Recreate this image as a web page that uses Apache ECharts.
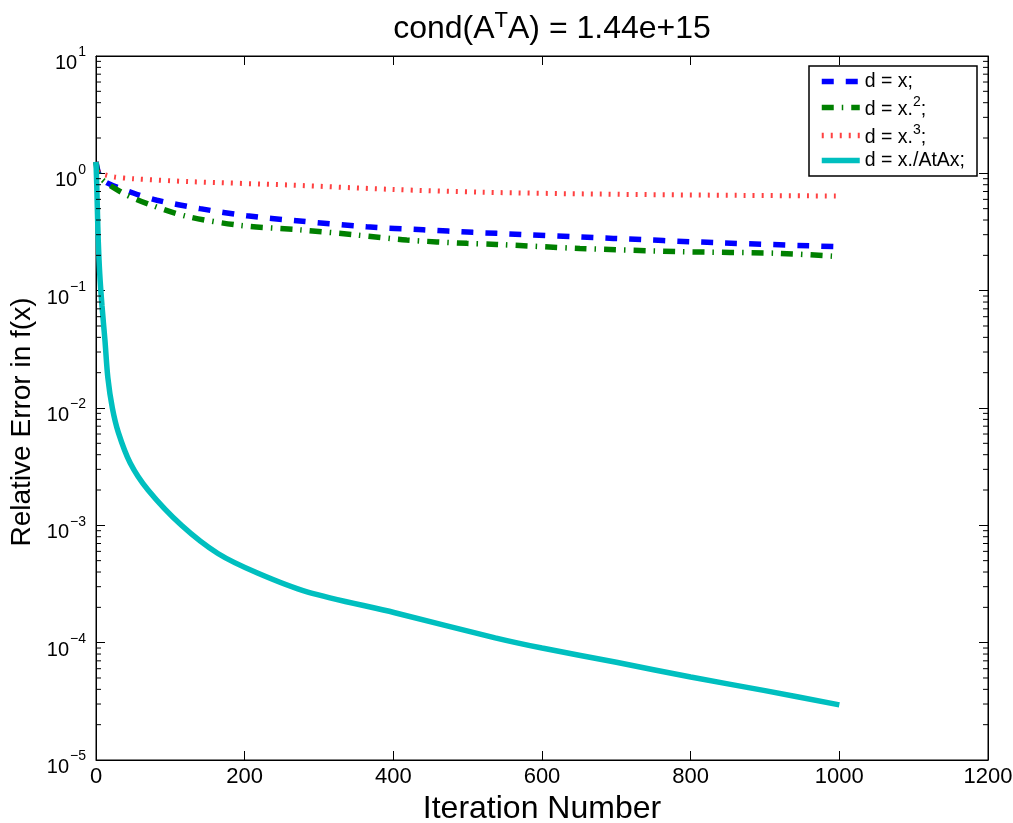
<!DOCTYPE html>
<html><head><meta charset="utf-8">
<script src="https://cdn.jsdelivr.net/npm/echarts@6/dist/echarts.min.js"></script>
<style>html,body{margin:0;padding:0;background:#fff}#c{width:1013px;height:823px}</style>
</head><body><div id="c"></div>
<script>
var FONT = 'Liberation Sans, Arial, Helvetica, sans-serif';

var xTicks = [0, 200, 400, 600, 800, 1000, 1200];
var yDecades = [1e-5, 1e-4, 1e-3, 1e-2, 1e-1, 1, 10];

var seriesNames = ['d = x;', 'd = x.^2;', 'd = x.^3;', 'd = x./AtAx;'];

var blueIter = [0, 5, 15, 50, 82, 140, 203, 270, 364, 440, 507, 539, 696, 830, 1000];
var blueVals = [1.25, 0.95, 0.83, 0.68, 0.59, 0.50, 0.435, 0.394, 0.35, 0.33, 0.314, 0.308, 0.279, 0.257, 0.237];

var greenIter = [0, 5, 36, 73, 122, 194, 274, 351, 418, 499, 539, 651, 786, 920, 1000];
var greenVals = [1.25, 0.93, 0.68, 0.54, 0.43, 0.36, 0.33, 0.298, 0.27, 0.253, 0.248, 0.229, 0.215, 0.208, 0.195];

var redIter = [0, 2, 5, 12, 25, 50, 126, 261, 396, 520, 680, 850, 1000];
var redVals = [1.25, 1.08, 1.0, 0.97, 0.93, 0.9, 0.85, 0.795, 0.73, 0.69, 0.665, 0.65, 0.64];

var cyanIter = [0, 1, 2, 3, 5, 8, 12, 16, 22, 30, 46, 70, 115, 164, 218, 285, 402, 537, 600, 700, 800, 900, 1000];
var cyanVals = [1.25, 0.8, 0.45, 0.27, 0.14, 0.075, 0.038, 0.018, 0.01, 0.0062, 0.0034, 0.002, 0.001, 5.75e-4, 3.9e-4, 2.7e-4, 1.8e-4, 1.1e-4, 9.0e-5, 6.8e-5, 5.1e-5, 3.9e-5, 2.95e-5];

function pairs(xs, ys) { return xs.map(function (x, i) { return [x, ys[i]]; }); }

var minorVals = [];
for (var k = 0; k < yDecades.length - 1; k++) {
  for (var m = 2; m <= 9; m++) minorVals.push([0, m * yDecades[k]]);
}

function supLabel(v) {
  var e = Math.round(Math.log10(v));
  var s = e < 0 ? '\u2212' + (-e) : '' + e;
  return '{b|10}{e|' + s + '}';
}

var chart = echarts.init(document.getElementById('c'), null, {renderer: 'canvas'});

var option = {
  backgroundColor: '#fff',
  animation: false,
  title: {
    text: 'cond(A{s|T}A) = 1.44e+15',
    left: 547, top: 5, textAlign: 'center',
    textStyle: {
      color: '#000', fontFamily: FONT, fontSize: 32, fontWeight: 'normal',
      rich: {s: {fontFamily: FONT, fontSize: 22, color: '#000', padding: [0, 0, 16, 0], verticalAlign: 'bottom'}}
    }
  },
  grid: {left: 96, right: 25, top: 56, bottom: 63, show: true, borderColor: '#000', borderWidth: 1,
    backgroundColor: '#fff', outerBoundsMode: 'none', containLabel: false},
  legend: {
    orient: 'vertical', left: 809, top: 66,
    data: seriesNames,
    itemStyle: {opacity: 0},
    lineStyle: {width: 5.5},
    backgroundColor: '#fff', borderColor: '#000', borderWidth: 1.5,
    padding: [6, 12, 5, 10], itemGap: 3, itemWidth: 38, itemHeight: 14,
    textStyle: {color: '#000', fontFamily: FONT, fontSize: 19.5,
      rich: {
        a: {fontFamily: FONT, fontSize: 19.5, color: '#000', verticalAlign: 'bottom', lineHeight: 21},
        s: {fontFamily: FONT, fontSize: 14, color: '#000', padding: [0, 0, 11, 0], verticalAlign: 'bottom'}
      }
    },
    formatter: function (name) {
      var m = name.match(/^(.*)\^(\d)(.*)$/);
      if (m) return '{a|' + m[1] + '}{s|' + m[2] + '}{a|' + m[3] + '}';
      return '{a|' + name + '}';
    }
  },
  xAxis: [{
    type: 'value', min: xTicks[0], max: xTicks[xTicks.length - 1], interval: 200,
    position: 'bottom',
    name: 'Iteration Number', nameLocation: 'middle', nameGap: 31,
    nameTextStyle: {color: '#000', fontFamily: FONT, fontSize: 32},
    axisLine: {show: true, onZero: false, lineStyle: {color: '#000', width: 1}},
    axisTick: {show: true, inside: true, length: 9, lineStyle: {color: '#000'}},
    axisLabel: {margin: 6, color: '#000', fontFamily: FONT, fontSize: 22, formatter: function (v) { return String(v); }},
    splitLine: {show: false}
  }, {
    type: 'value', min: xTicks[0], max: xTicks[xTicks.length - 1], interval: 200,
    position: 'top',
    axisLine: {show: true, onZero: false, lineStyle: {color: '#000', width: 1}},
    axisTick: {show: true, inside: true, length: 9, lineStyle: {color: '#000'}},
    axisLabel: {show: false}, splitLine: {show: false}
  }],
  yAxis: [{
    type: 'log', logBase: 10, min: yDecades[0], max: yDecades[yDecades.length - 1],
    position: 'left',
    name: 'Relative Error in f(x)', nameLocation: 'middle', nameGap: 52,
    nameTextStyle: {color: '#000', fontFamily: FONT, fontSize: 28, padding: [0, 28, 0, 0]},
    axisLine: {show: true, onZero: false, lineStyle: {color: '#000', width: 1}},
    axisTick: {show: true, inside: true, length: 9, lineStyle: {color: '#000'}},
    axisLabel: {
      margin: 10, color: '#000', fontFamily: FONT, fontSize: 20,
      formatter: supLabel,
      rich: {
        b: {fontFamily: FONT, fontSize: 20, color: '#000', verticalAlign: 'bottom', padding: [0, 0, -7, 0]},
        e: {fontFamily: FONT, fontSize: 14, color: '#000', verticalAlign: 'bottom', padding: [0, 0, 7, 1]}
      }
    },
    splitLine: {show: false}
  }, {
    type: 'log', logBase: 10, min: yDecades[0], max: yDecades[yDecades.length - 1],
    position: 'right',
    axisLine: {show: true, onZero: false, lineStyle: {color: '#000', width: 1}},
    axisTick: {show: true, inside: true, length: 9, lineStyle: {color: '#000'}},
    axisLabel: {show: false}, splitLine: {show: false}
  }],
  series: [
    {
      name: 'minor', type: 'custom', silent: true, xAxisIndex: 0, yAxisIndex: 0,
      data: minorVals, z: 5,
      renderItem: function (params, api) {
        var p = api.coord([0, api.value(1)]);
        var cs = params.coordSys;
        return {
          type: 'group', children: [
            {type: 'line', shape: {x1: cs.x, y1: p[1], x2: cs.x + 5, y2: p[1]}, style: {stroke: '#000', lineWidth: 1}},
            {type: 'line', shape: {x1: cs.x + cs.width - 5, y1: p[1], x2: cs.x + cs.width, y2: p[1]}, style: {stroke: '#000', lineWidth: 1}}
          ]
        };
      }
    },
    {
      name: seriesNames[0], type: 'line', data: pairs(blueIter, blueVals), symbol: 'none', smooth: 0.3,
      itemStyle: {color: '#0000ff'},
      lineStyle: {color: '#0000ff', width: 5.5, type: [12, 12], cap: 'butt'}, z: 3
    },
    {
      name: seriesNames[1], type: 'line', data: pairs(greenIter, greenVals), symbol: 'none', smooth: 0.3,
      itemStyle: {color: '#008000'},
      lineStyle: {color: '#008000', width: 5.5, type: [12, 8, 1.5, 8], cap: 'butt'}, z: 3
    },
    {
      name: seriesNames[2], type: 'line', data: pairs(redIter, redVals), symbol: 'none', smooth: 0.3,
      itemStyle: {color: '#ff2020'},
      lineStyle: {color: '#ff2020', width: 5, type: [2, 7], cap: 'butt', opacity: 0.85}, z: 3
    },
    {
      name: seriesNames[3], type: 'line', data: pairs(cyanIter, cyanVals), symbol: 'none', smooth: 0.3,
      itemStyle: {color: '#00bfbf'},
      lineStyle: {color: '#00bfbf', width: 5.5, type: 'solid'}, z: 4
    }
  ]
};
chart.setOption(option);
</script>
</body></html>
